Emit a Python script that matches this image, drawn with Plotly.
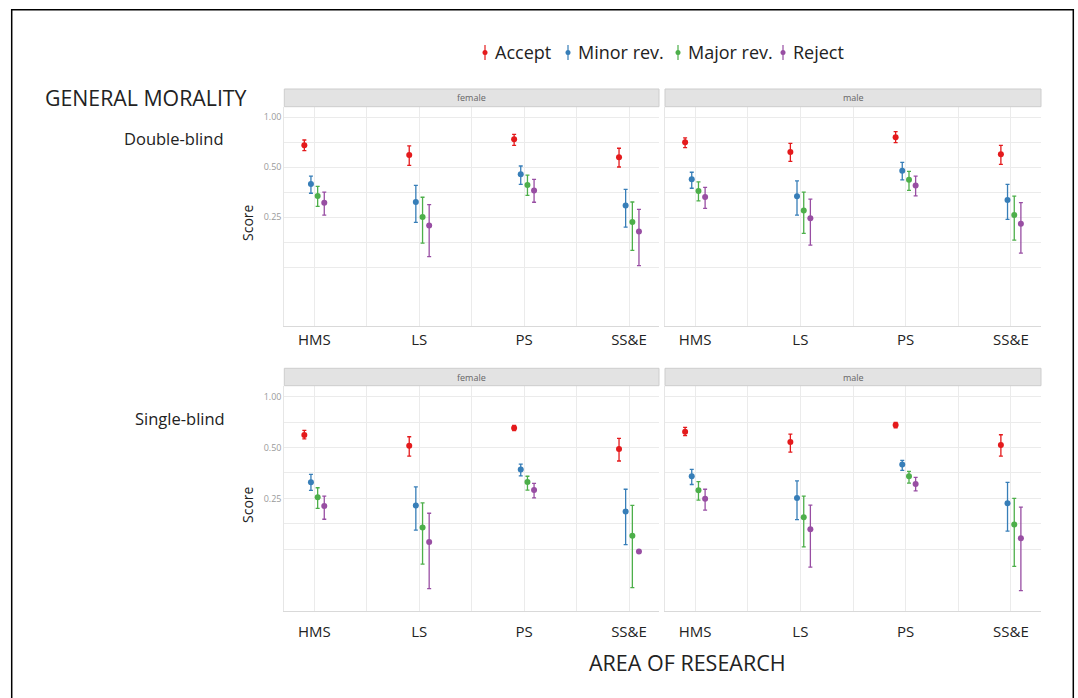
import math
import plotly.graph_objects as go

# ---------------- data ----------------
categories = ["HMS", "LS", "PS", "SS&E"]
outcomes = ["Accept", "Minor rev.", "Major rev.", "Reject"]
colors = ["#E41A1C", "#377EB8", "#4DAF4A", "#984EA3"]
genders = ["female", "male"]
reviews = ["Double-blind", "Single-blind"]

# rows = outcomes (Accept, Minor, Major, Reject); columns = categories
db_female_score = [[0.678, 0.593, 0.737, 0.574],
                   [0.397, 0.309, 0.454, 0.294],
                   [0.336, 0.251, 0.391, 0.234],
                   [0.306, 0.223, 0.363, 0.205]]
db_female_low = [[0.630, 0.514, 0.678, 0.502],
                 [0.349, 0.233, 0.395, 0.218],
                 [0.291, 0.175, 0.339, 0.158],
                 [0.258, 0.145, 0.308, 0.128]]
db_female_high = [[0.730, 0.672, 0.790, 0.651],
                  [0.443, 0.389, 0.509, 0.368],
                  [0.384, 0.330, 0.449, 0.309],
                  [0.354, 0.298, 0.423, 0.279]]

db_male_score = [[0.707, 0.618, 0.758, 0.599],
                 [0.423, 0.335, 0.477, 0.318],
                 [0.360, 0.275, 0.421, 0.258],
                 [0.331, 0.247, 0.389, 0.229]]
db_male_low = [[0.657, 0.543, 0.704, 0.521],
               [0.374, 0.258, 0.420, 0.243],
               [0.314, 0.200, 0.363, 0.182],
               [0.283, 0.170, 0.336, 0.152]]
db_male_high = [[0.751, 0.697, 0.820, 0.678],
                [0.467, 0.414, 0.536, 0.395],
                [0.408, 0.354, 0.473, 0.335],
                [0.379, 0.322, 0.443, 0.306]]

sb_female_score = [[0.593, 0.513, 0.652, 0.490],
                   [0.311, 0.227, 0.370, 0.209],
                   [0.254, 0.168, 0.312, 0.150],
                   [0.225, 0.138, 0.280, 0.121]]
sb_female_low = [[0.562, 0.445, 0.629, 0.416],
                 [0.279, 0.162, 0.340, 0.133],
                 [0.218, 0.102, 0.280, 0.074],
                 [0.188, 0.073, 0.252, 0.119]]
sb_female_high = [[0.632, 0.579, 0.676, 0.567],
                  [0.347, 0.292, 0.399, 0.283],
                  [0.289, 0.235, 0.338, 0.227],
                  [0.258, 0.204, 0.307, 0.123]]

sb_male_score = [[0.620, 0.539, 0.679, 0.517],
                 [0.338, 0.251, 0.397, 0.234],
                 [0.279, 0.193, 0.338, 0.175],
                 [0.249, 0.164, 0.304, 0.145]]
sb_male_low = [[0.588, 0.470, 0.655, 0.445],
               [0.302, 0.187, 0.366, 0.160],
               [0.244, 0.129, 0.308, 0.099],
               [0.213, 0.098, 0.277, 0.071]]
sb_male_high = [[0.658, 0.601, 0.705, 0.595],
                [0.371, 0.317, 0.420, 0.311],
                [0.314, 0.258, 0.361, 0.250],
                [0.283, 0.228, 0.333, 0.222]]

y_tick_values = [0.125, 0.177, 0.25, 0.354, 0.5, 0.707, 1.0]
y_tick_labels = ["", "", "0.25", "", "0.50", "", "1.00"]

panels = [
    (0, 0, db_female_score, db_female_low, db_female_high),
    (0, 1, db_male_score, db_male_low, db_male_high),
    (1, 0, sb_female_score, sb_female_low, sb_female_high),
    (1, 1, sb_male_score, sb_male_low, sb_male_high),
]

# ---------------- layout geometry (pixels) ----------------
W, H = 1078, 698
FONT = "Open Sans"
col_px = [(284.3, 659.0), (665.0, 1041.0)]
row_px = [(107.0, 326.0), (386.0, 611.0)]
strip_px = [(89.0, 106.7), (368.3, 385.7)]
row_ranges = [[math.log10(2 ** (10.3 / 50.0)), math.log10(2 ** (-208.7 / 50.0))],
              [math.log10(2 ** (10.7 / 50.83)), math.log10(2 ** (-214.3 / 50.83))]]
row_ticklen = [0, 7]
dodge = [-0.095, -0.032, 0.032, 0.095]


def px(x):
    return x / W


def py(y):
    return 1 - y / H


fig = go.Figure()
layout = dict(width=W, height=H, autosize=False,
              margin=dict(l=0, r=0, t=0, b=0),
              paper_bgcolor="white", plot_bgcolor="white",
              showlegend=False, font=dict(family=FONT, color="#222"))
shapes = []
annotations = []

for idx, (r, c, score, low, high) in enumerate(panels):
    n = idx + 1
    xa = "x" if n == 1 else f"x{n}"
    ya = "y" if n == 1 else f"y{n}"
    for k, name in enumerate(outcomes):
        xs = [i + 1 + dodge[k] for i in range(len(categories))]
        fig.add_trace(go.Scatter(
            x=xs, y=score[k], mode="markers", name=name,
            xaxis=xa, yaxis=ya,
            marker=dict(color=colors[k], size=6),
            error_y=dict(type="data", symmetric=False,
                         array=[h - s for h, s in zip(high[k], score[k])],
                         arrayminus=[s - l for s, l in zip(score[k], low[k])],
                         color=colors[k], thickness=1.3, width=2),
            showlegend=False,
        ))
    x0, x1 = col_px[c]
    y0, y1 = row_px[r]
    layout["xaxis" if n == 1 else f"xaxis{n}"] = dict(
        domain=[px(x0), px(x1)], anchor=ya, range=[0.714, 4.286],
        tickvals=[1, 2, 3, 4], ticktext=categories,
        showgrid=True, gridcolor="#ebebeb", gridwidth=1,
        minor=dict(tickvals=[1.5, 2.5, 3.5], showgrid=True,
                   gridcolor="#ebebeb", gridwidth=1),
        ticks="outside" if row_ticklen[r] else "", ticklen=row_ticklen[r],
        tickcolor="rgba(0,0,0,0)",
        tickfont=dict(size=15, color="#222", family=FONT),
        showline=True, linecolor="#d9d9d9", linewidth=1,
        zeroline=False, fixedrange=True)
    layout["yaxis" if n == 1 else f"yaxis{n}"] = dict(
        domain=[py(y1), py(y0)], anchor=xa, type="log",
        range=[row_ranges[r][1], row_ranges[r][0]],
        tickvals=y_tick_values, ticktext=y_tick_labels,
        showticklabels=(c == 0),
        tickfont=dict(size=9, color="#9a9a9a", family=FONT),
        showgrid=True, gridcolor="#ebebeb", gridwidth=1,
        showline=True, linecolor="#e6e6e6", linewidth=1,
        ticks="", zeroline=False, fixedrange=True)
    # facet strip
    s0, s1 = strip_px[r]
    shapes.append(dict(type="rect", xref="paper", yref="paper",
                       x0=px(x0), x1=px(x1), y0=py(s1), y1=py(s0),
                       fillcolor="#e3e3e3", line=dict(color="#cdcdcd", width=1)))
    annotations.append(dict(text=genders[c], xref="paper", yref="paper",
                            x=px((x0 + x1) / 2), y=py((s0 + s1) / 2),
                            showarrow=False, xanchor="center", yanchor="middle",
                            font=dict(size=9, color="#666", family=FONT)))
    if c == 0:
        annotations.append(dict(text="Score", xref="paper", yref="paper",
                                x=px(247), y=py((y0 + y1) / 2 + 6.5), textangle=-90,
                                showarrow=False, xanchor="center", yanchor="middle",
                                font=dict(size=14, color="#222", family=FONT)))
        annotations.append(dict(text=reviews[r], xref="paper", yref="paper",
                                x=px(226 if r == 0 else 227),
                                y=py(139 if r == 0 else 418),
                                showarrow=False, xanchor="right", yanchor="middle",
                                font=dict(size=16.5, color="#222", family=FONT)))

# titles
annotations.append(dict(text="GENERAL MORALITY", xref="paper", yref="paper",
                        x=px(43), y=py(97), showarrow=False,
                        xanchor="left", yanchor="middle",
                        font=dict(size=21.3, color="#222", family=FONT)))
annotations.append(dict(text="AREA OF RESEARCH", xref="paper", yref="paper",
                        x=px(687), y=py(662), showarrow=False,
                        xanchor="center", yanchor="middle",
                        font=dict(size=21.5, color="#222", family=FONT)))

# legend (pointrange glyphs + labels)
legend_glyph_x = [485, 568, 678, 783]
for k, name in enumerate(outcomes):
    gx = legend_glyph_x[k]
    shapes.append(dict(type="line", xref="paper", yref="paper",
                       x0=px(gx), x1=px(gx), y0=py(60), y1=py(45),
                       line=dict(color=colors[k], width=1.2)))
    shapes.append(dict(type="circle", xref="paper", yref="paper",
                       x0=px(gx - 2.5), x1=px(gx + 2.5), y0=py(55), y1=py(50),
                       fillcolor=colors[k], line=dict(color=colors[k], width=0)))
    annotations.append(dict(text=name, xref="paper", yref="paper",
                            x=px(gx + 8), y=py(52), showarrow=False,
                            xanchor="left", yanchor="middle",
                            font=dict(size=18, color="#222", family=FONT)))

# outer frame
shapes.append(dict(type="rect", xref="paper", yref="paper",
                   x0=px(11.7), x1=px(1073.3), y0=py(720), y1=py(9.7),
                   line=dict(color="black", width=1.5), fillcolor="rgba(0,0,0,0)"))

layout["shapes"] = shapes
layout["annotations"] = annotations
fig.update_layout(**layout)
fig.write_html("out.html",
               config={"displayModeBar": False, "staticPlot": True},
               post_script="document.body.style.margin='0px';"
                           "document.body.style.overflow='hidden';")
